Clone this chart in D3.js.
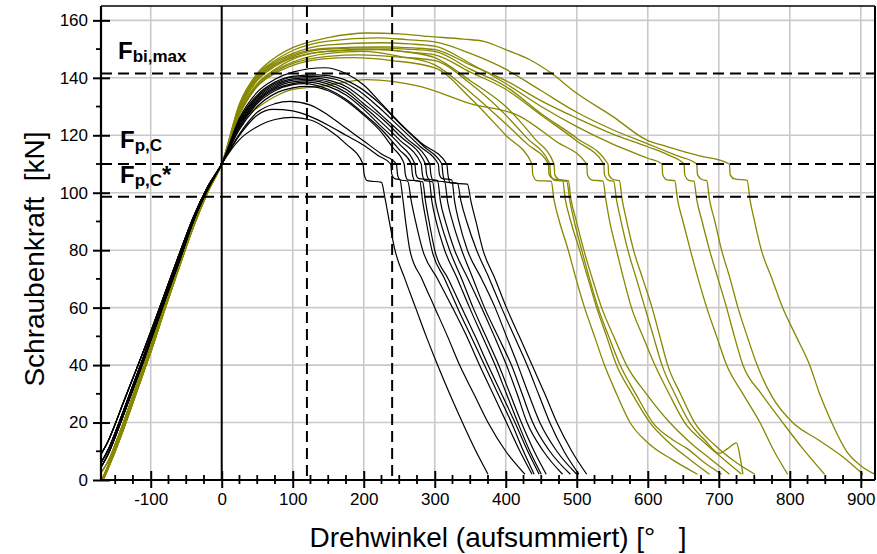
<!DOCTYPE html>
<html><head><meta charset="utf-8">
<script src="https://cdn.jsdelivr.net/npm/d3@7"></script>
<style>
html,body{margin:0;padding:0;background:#fff;}
svg{display:block;font-family:"Liberation Sans",Arial,Helvetica,sans-serif;}
</style></head><body>
<svg id="chart" width="877" height="554"></svg>
<script>
// ---------- data (deg, kN) ----------
const xTicks = [-100,0,100,200,300,400,500,600,700,800,900];
const yTicks = [0,20,40,60,80,100,120,140,160];
const xMinor = [-150,-125,-75,-50,-25,25,50,75,125,150,175,225,250,275,325,350,375,425,450,475,525,550,575,625,650,675,725,750,775,825,850,875];
const yMinor = [10,30,50,70,90,110,130,150];
const refLevels = [141.5, 110, 98.6];   // Fbi,max, Fp,C, Fp,C*
const refAngles = [120, 240];

const riseBlackA = [[-170,9],[-160,13.5],[-150,19.5],[-140,26],[-125,35.5],[-110,45],[-100,51.5],[-80,65],[-60,78.5],[-40,91.5],[-20,102],[0,110]];
const riseBlackB = [[-170,6],[-160,10.5],[-150,16.5],[-140,23],[-125,33],[-110,43],[-100,50],[-80,63.5],[-60,77],[-40,90.5],[-20,101.5],[0,110]];
const riseBlackC = [[-170,4.5],[-160,9],[-150,15],[-140,21.5],[-125,31.5],[-110,41.5],[-100,48.5],[-80,62.5],[-60,76],[-40,90],[-20,101],[0,110]];
const riseOliveA = [[-168,0.5],[-160,5],[-150,11],[-140,18],[-125,28.5],[-110,39],[-100,46],[-80,60.5],[-60,74.5],[-40,88.5],[-20,100.5],[0,110]];
const riseOliveB = [[-166,0.5],[-160,4],[-150,10],[-140,16.5],[-125,27],[-110,37.5],[-100,44.5],[-80,59.5],[-60,74],[-40,88],[-20,100],[0,110]];
const riseOliveC = [[-170,2.5],[-160,6.5],[-150,12.5],[-140,19],[-125,29.5],[-110,40],[-100,47],[-80,61.5],[-60,75],[-40,89],[-20,100.5],[0,110]];

const black1  = [[25,118.5],[50,123],[75,125.5],[100,126.2],[125,125.3],[150,122],[175,117],[199,110],[200.5,106.5],[205,104.2],[225,103.6],[230,98],[236,90],[244,80],[258,70],[273,60],[288,50],[304,40],[321,30],[339,20],[357,10.5],[375,2]];
const black2  = [[25,120],[50,127],[72,129],[100,128.5],[125,126.5],[150,123.5],[175,120],[200,116.5],[220,113],[238,110],[239.5,106.5],[243,105],[251,104.5],[255,98],[259,90],[265,80],[282,70],[300,60],[318,50],[335,40],[355,30],[375,20],[400,10],[427,2]];
const black3  = [[25,120.5],[50,128],[75,131],[96,131.8],[125,130.5],[150,127],[175,122.5],[200,118],[225,113.5],[246,110],[247.5,106.5],[251,104.5],[262,104],[267,97],[273,90],[283,80],[304,70],[325,60],[345,50],[363,40],[382,30],[401,20],[420,10],[437,2]];
const black4  = [[25,122],[50,130],[75,134.5],[100,136.5],[120,137],[150,135.5],[175,132],[200,127],[225,121],[240,116],[257,110],[258.5,106.5],[262,104.5],[279,104],[283,97],[288,90],[296,80],[314,70],[332,60],[351,50],[370,40],[389,30],[408,20],[425,10],[440,2]];
const black5  = [[25,122.5],[50,131],[75,135.5],[100,137.6],[115,138],[150,136],[175,132.5],[200,127.5],[225,122],[250,115],[267,110],[268.5,106.5],[272,104.2],[283,103.8],[287,97],[292,90],[300,80],[319,70],[338,60],[357,50],[375,40],[394,30],[413,20],[431,10],[447,2]];
const black6  = [[25,123],[50,131.5],[75,136],[100,138],[120,138.5],[150,137],[175,134],[200,129],[225,123],[250,117],[272,110],[273.5,106.5],[277,105],[292,104.5],[296,97],[302,90],[314,80],[332,70],[349,60],[367,50],[385,40],[401,30],[417,20],[434,10],[450,2]];
const black7  = [[25,123.5],[50,132],[75,136.5],[100,138.6],[125,139],[150,137.8],[175,135],[200,130],[225,124.5],[250,118.5],[281,110],[282.5,106.5],[286,104.2],[297,103.8],[301,97],[308,90],[321,80],[338,70],[354,60],[372,50],[390,40],[406,30],[422,20],[440,10],[457,2]];
const black8  = [[25,124],[50,132.5],[75,137],[100,139.2],[125,139.5],[150,138.5],[175,136],[200,131],[225,126],[250,120],[287,110],[288.5,106.5],[292,104.7],[304,104.2],[308,97],[315,90],[328,80],[347,70],[366,60],[384,50],[401,40],[416,30],[430,20],[453,10],[480,2]];
const black9  = [[25,124.5],[50,133],[75,137.5],[100,139.6],[125,140],[150,139.2],[175,137],[200,132.5],[225,127],[260,119],[293,110],[294.5,106.5],[298,104.2],[314,103.8],[318,97],[325,90],[338,80],[354,70],[370,60],[389,50],[408,40],[423,30],[438,20],[462,10],[491,2]];
const black10 = [[25,125],[50,133.5],[75,138],[100,140.2],[130,140.5],[160,139.5],[190,136],[220,130],[250,123],[280,116],[305,110],[306.5,106.5],[310,105],[324,104.5],[328,97],[334,90],[346,80],[366,70],[385,60],[401,50],[417,40],[432,30],[448,20],[472,10],[500,2]];
const black11 = [[25,125.5],[50,134],[75,138.5],[100,140.5],[135,141],[165,140],[195,136.5],[225,130.5],[255,123],[285,116],[310,110],[311.5,106.5],[315,103.8],[332,103.3],[337,97],[345,90],[359,80],[377,70],[394,60],[412,50],[430,40],[446,30],[462,20],[482,10],[503,2]];
const black12 = [[25,126],[50,135],[75,139.5],[100,142],[145,143.5],[175,141.5],[200,137.5],[225,131],[250,124.5],[280,117.5],[317,110],[318.5,106.5],[322,103.4],[346,103],[351,97],[358,90],[368,80],[385,70],[401,60],[419,50],[437,40],[455,30],[472,20],[493,10],[514,2]];

const olive1  = [[25,127],[50,137],[75,141.5],[100,144.3],[140,146.5],[185,147],[240,146],[300,143.5],[350,133],[400,120],[437,110],[438,106.3],[444,104.2],[464,104],[468,97.5],[475,90.5],[488,80],[499,70],[511,60],[525,50],[539,40],[556,30],[575,20],[600,13],[635,7],[670,2]];
const olive2  = [[25,128],[50,137.5],[75,142.5],[100,145.5],[150,148.5],[200,149.2],[250,147.5],[300,144.5],[350,135],[400,124],[430,117],[460,110],[461,106.3],[467,104.8],[480,104.3],[484,97.5],[491,90.5],[504,80],[516,70],[528,60],[542,50],[556,40],[578,30],[603,20],[630,13],[660,7],[687,2]];
const olive3  = [[25,127.5],[50,137],[75,142],[100,145],[150,147.5],[195,148],[250,147.2],[300,146],[350,138],[400,127],[430,119],[462,110],[463,106.3],[469,104.3],[486,104],[490,97.5],[496,90.5],[507,80],[518,70],[530,60],[545,50],[561,40],[583,30],[607,20],[635,14],[655,11],[680,6],[704,2]];
const olive4  = [[25,128.5],[50,138],[75,143],[100,146.5],[150,149.3],[210,150],[260,149],[300,147],[350,139],[400,130],[440,119],[468,110],[469,106.3],[475,104.6],[488,104.2],[492,97.5],[499,90.5],[510,80],[522,70],[535,60],[552,50],[570,40],[598,30],[631,20],[660,13],[690,7],[715,2]];
const olive5  = [[25,124.5],[50,129.5],[75,133.5],[100,136],[138,137],[204,139.4],[279,137],[350,131],[420,126.6],[470,118],[514,110],[515,106.3],[521,104.5],[537,104],[541,97.5],[546,90.5],[556,80],[566,70],[577,60],[593,50],[610,40],[630,30],[652,20],[680,13],[708,7],[732,2]];
const olive6  = [[25,129],[50,139],[75,144],[100,147],[150,149.2],[220,149.8],[260,149],[300,148],[350,142],[400,136],[450,127],[500,118],[538,110],[539,106.3],[545,104.3],[552,104],[556,97.5],[562,90.5],[572,80],[584,70],[596,60],[608,50],[620,40],[638,30],[659,20],[680,14],[701,9.3],[713,11],[725,12.9],[730,8],[734,2]];
const olive7  = [[25,129.5],[50,139.5],[75,144.5],[100,147.5],[150,150],[215,150.4],[260,150],[300,149.2],[350,143],[400,137],[450,127.5],[500,119],[544,110],[545,106.3],[551,104.6],[560,104.2],[564,97.5],[570,90.5],[580,80],[593,70],[606,60],[617,50],[628,40],[646,30],[666,20],[695,12],[725,6],[751,2]];
const olive8  = [[25,130],[50,140.5],[75,145.5],[100,148.5],[150,151.5],[225,152.2],[265,151.8],[300,151],[350,145],[400,138],[450,130],[500,123],[550,117],[600,112],[620,110],[621,106.3],[627,104.5],[638,104.2],[642,97.5],[649,90.5],[660,80],[671,70],[683,60],[697,50],[711,40],[734,30],[758,20],[778,10],[797,2]];
const olive9  = [[25,129.8],[50,140],[75,145],[100,148],[150,150.3],[230,150.8],[270,150.4],[300,149.8],[350,144.5],[400,139],[450,132],[500,126],[550,120.5],[600,116],[630,113],[651,110],[652,106.3],[658,104.3],[665,104],[669,97.5],[676,90.5],[687,80],[699,70],[711,60],[722,50],[734,40],[760,30],[790,20],[818,11],[849,2]];
const olive10 = [[25,130.5],[50,141],[75,146],[100,149.5],[150,152.8],[220,153.9],[260,153.3],[300,152.5],[350,148.5],[400,143],[450,135.5],[500,128],[550,122],[600,117],[640,113],[669,110],[670,106.3],[676,104.6],[683,104.2],[687,97.5],[694,90.5],[704,80],[716,70],[727,60],[740,50],[754,40],[775,29],[804,20],[840,14],[875,8],[903,2]];
const olive11 = [[25,131],[50,141.5],[75,147],[100,150.5],[150,154],[205,155.6],[250,155.3],[291,154.4],[340,153.5],[369,152.7],[400,149.8],[434,146.3],[462,142],[499,134.8],[551,126.5],[598,118.4],[628,116],[670,113],[715,110],[716,106.3],[722,104.8],[740,104.3],[744,97.5],[750,90.5],[760,80],[775,70],[790,60],[809,50],[828,40],[842,30],[859,20],[880,10],[900,5],[920,2]];

const blackCurves = [
  [riseBlackC, black1],[riseBlackB, black2],[riseBlackC, black3],[riseBlackA, black4],
  [riseBlackB, black5],[riseBlackA, black6],[riseBlackC, black7],[riseBlackB, black8],
  [riseBlackA, black9],[riseBlackC, black10],[riseBlackB, black11],[riseBlackA, black12]
];
const oliveCurves = [
  [riseOliveA, olive1],[riseOliveB, olive2],[riseOliveC, olive3],[riseOliveA, olive4],
  [riseOliveB, olive5],[riseOliveC, olive6],[riseOliveA, olive7],[riseOliveB, olive8],
  [riseOliveC, olive9],[riseOliveA, olive10],[riseOliveB, olive11]
];

// ---------- drawing ----------
const m = {l:101, r:875, t:6, b:480};
const x = d3.scaleLinear().domain([-170,920]).range([m.l,m.r]);
const y = d3.scaleLinear().domain([0,165]).range([m.b,m.t]);
const svg = d3.select('#chart');
const OLIVE = '#878700';
const FONT = '"Liberation Sans",Arial,sans-serif';
const fmt = d => String(d);   // plain hyphen-minus like the original

svg.append('defs').append('clipPath').attr('id','plot')
  .append('rect').attr('x',m.l).attr('y',m.t).attr('width',m.r-m.l).attr('height',m.b-m.t);

// grid
const grid = svg.append('g').attr('stroke','#c9c9c9').attr('stroke-width',1.6);
grid.selectAll('.gx').data(xTicks.filter(d=>d!==0)).join('line')
  .attr('x1',d=>x(d)).attr('x2',d=>x(d)).attr('y1',m.t).attr('y2',m.b);
grid.selectAll('.gy').data(yTicks.filter(d=>d!==0)).join('line')
  .attr('x1',m.l).attr('x2',m.r).attr('y1',d=>y(d)).attr('y2',d=>y(d));

// curves
const line = d3.line().x(d=>x(d[0])).y(d=>y(d[1])).curve(d3.curveMonotoneX);
const cg = svg.append('g').attr('clip-path','url(#plot)').attr('fill','none');
cg.selectAll('.olive').data(oliveCurves).join('path')
  .attr('d',d=>line(d[0].concat(d[1]))).attr('stroke',OLIVE).attr('stroke-width',1.3);
cg.selectAll('.black').data(blackCurves).join('path')
  .attr('d',d=>line(d[0].concat(d[1]))).attr('stroke','#000').attr('stroke-width',1.2);

// reference lines
const rg = svg.append('g').attr('stroke','#000').attr('stroke-width',2).attr('stroke-dasharray','11,6');
rg.selectAll('.rh').data(refLevels).join('line')
  .attr('x1',m.l).attr('x2',m.r).attr('y1',d=>y(d)).attr('y2',d=>y(d));
rg.selectAll('.rv').data(refAngles).join('line')
  .attr('x1',d=>x(d)).attr('x2',d=>x(d)).attr('y1',m.t).attr('y2',m.b);
svg.append('line').attr('x1',x(0)).attr('x2',x(0)).attr('y1',m.t).attr('y2',m.b)
  .attr('stroke','#000').attr('stroke-width',2);

// frame
svg.append('line').attr('x1',m.l).attr('x2',m.r).attr('y1',m.t).attr('y2',m.t).attr('stroke','#000').attr('stroke-width',1.5);
svg.append('line').attr('x1',m.r).attr('x2',m.r).attr('y1',m.t).attr('y2',m.b).attr('stroke','#000').attr('stroke-width',2);

// axes
const fs = 17;
const xAxis = svg.append('g').attr('transform',`translate(0,${m.b})`)
  .call(d3.axisBottom(x).tickValues(xTicks).tickSizeInner(8).tickSizeOuter(0).tickPadding(5).tickFormat(fmt));
xAxis.select('.domain').attr('stroke-width',2.2).attr('d',`M${m.l},0H${m.r}`);
xAxis.selectAll('.tick line').attr('stroke-width',2).attr('y1',-9);
xAxis.selectAll('.tick text').attr('font-size',fs).attr('font-family',FONT).attr('fill','#000');
xAxis.append('g').selectAll('line').data(xMinor).join('line')
  .attr('x1',d=>x(d)).attr('x2',d=>x(d)).attr('y1',-5).attr('y2',4).attr('stroke','#000').attr('stroke-width',1.8);

const yAxis = svg.append('g').attr('transform',`translate(${m.l},0)`)
  .call(d3.axisLeft(y).tickValues(yTicks).tickSizeInner(8).tickSizeOuter(0).tickPadding(5).tickFormat(fmt));
yAxis.select('.domain').attr('stroke-width',2.2).attr('d',`M0,${m.t}V${m.b}`);
yAxis.selectAll('.tick line').attr('stroke-width',2).attr('x2',-8).attr('x1',9);
yAxis.selectAll('.tick text').attr('font-size',fs).attr('font-family',FONT).attr('fill','#000');
yAxis.append('g').selectAll('line').data(yMinor).join('line')
  .attr('x1',-5).attr('x2',0).attr('y1',d=>y(d)).attr('y2',d=>y(d)).attr('stroke','#000').attr('stroke-width',1.8);

// axis titles
svg.append('text').attr('x',498).attr('y',547).attr('text-anchor','middle')
  .attr('font-size',28).attr('fill','#000').style('white-space','pre')
  .text('Drehwinkel (aufsummiert) [°   ]');
svg.append('text').attr('transform','translate(44,259) rotate(-90)').attr('text-anchor','middle')
  .attr('font-size',28).attr('fill','#000').style('white-space','pre')
  .text('Schraubenkraft  [kN]');

// annotations
function label(xp, yp, sub, star){
  const t = svg.append('text').attr('x',xp).attr('y',yp).attr('font-weight','bold').attr('font-size',24).attr('fill','#000');
  t.append('tspan').text('F');
  t.append('tspan').attr('font-size',17).attr('dy',3).text(sub);
  if(star) t.append('tspan').attr('dy',-3).text('*');
}
label(118, 59, 'bi,max', false);
label(120, 148, 'p,C', false);
label(120, 183, 'p,C', true);
</script>
</body></html>
